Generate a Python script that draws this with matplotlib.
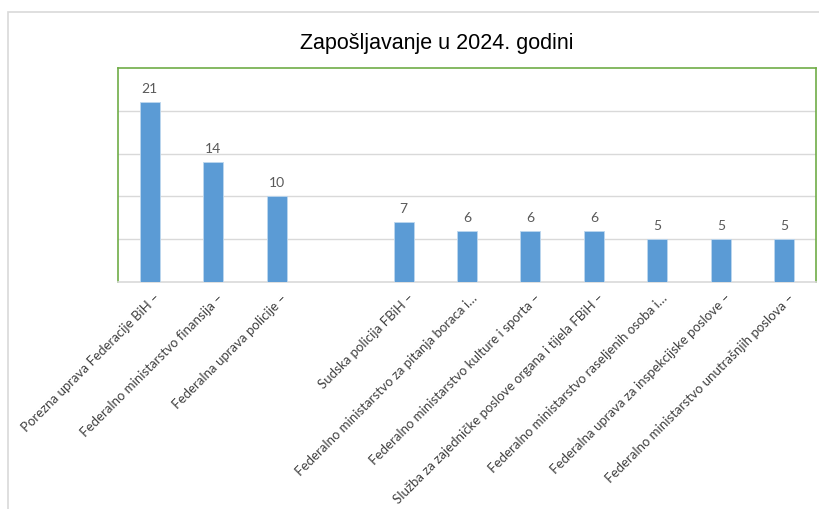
import matplotlib.pyplot as plt
import matplotlib.patches as mpatches
import matplotlib.transforms as mtransforms
import numpy as np

# data (one empty slot between 3rd and 4th bar)
institucije = [
    "Porezna uprava Federacije BiH –",
    "Federalno ministarstvo finansija –",
    "Federalna uprava policije –",
    "",
    "Sudska policija FBiH –",
    "Federalno ministarstvo za pitanja boraca i…",
    "Federalno ministarstvo kulture i sporta –",
    "Služba za zajedničke poslove organa i tijela FBiH –",
    "Federalno ministarstvo raseljenih osoba i…",
    "Federalna uprava za inspekcijske poslove –",
    "Federalno ministarstvo unutrašnjih poslova –",
]
zaposleni = [21, 14, 10, np.nan, 7, 6, 6, 6, 5, 5, 5]

W, H = 819, 509
fig = plt.figure(figsize=(W / 100, H / 100), dpi=100)
fig.patch.set_facecolor("white")

# outer chart frame (partly cut off at right / bottom)
fig.add_artist(mpatches.Rectangle((8 / W, -0.1), 1.2, 1 - 12 / H + 0.1,
                                  transform=fig.transFigure, fill=False,
                                  edgecolor="#D9D9D9", linewidth=1.2))

# plot area in pixels: x 118..816, y 68..282
ax = fig.add_axes([118 / W, 1 - 282 / H, (816 - 118) / W, (282 - 68) / H])

x = np.arange(len(institucije))
bars = ax.bar(x, zaposleni, width=0.315, color="#5B9BD5",
              edgecolor="#BDD7EE", linewidth=0.6, zorder=3)

for xi, v in zip(x, zaposleni):
    if not np.isnan(v):
        ax.annotate(f"{int(v)}", (xi, v), xytext=(0, 5), textcoords="offset points",
                    ha="center", va="bottom", fontsize=10, color="#595959",
                    family="Lato")

ax.set_xlim(-0.5, len(institucije) - 0.5)
ax.set_ylim(0, 25)
ax.set_yticks([5, 10, 15, 20])
ax.yaxis.grid(True, color="#D9D9D9", linewidth=1.0, zorder=0)
ax.tick_params(axis="y", left=False, labelleft=False)
ax.tick_params(axis="x", length=0, pad=7)

ax.set_xticks(x)
ax.set_xticklabels(institucije, rotation=45, ha="right", rotation_mode="anchor",
                   fontsize=9.5, color="#404040", family="Lato")
shift = mtransforms.ScaledTranslation(4 / 100, 0, fig.dpi_scale_trans)
for lbl in ax.get_xticklabels():
    lbl.set_transform(lbl.get_transform() + shift)

for side in ["left", "top", "right"]:
    ax.spines[side].set_color("#70AD47")
    ax.spines[side].set_linewidth(1.2)
ax.spines["bottom"].set_color("#D9D9D9")
ax.spines["bottom"].set_linewidth(1.2)

fig.text(437 / W, 1 - 43 / H, "Zapošljavanje u 2024. godini", ha="center",
         va="center", fontsize=15.5, family="Liberation Sans", color="#000000")

plt.savefig("out.png", dpi=100)
